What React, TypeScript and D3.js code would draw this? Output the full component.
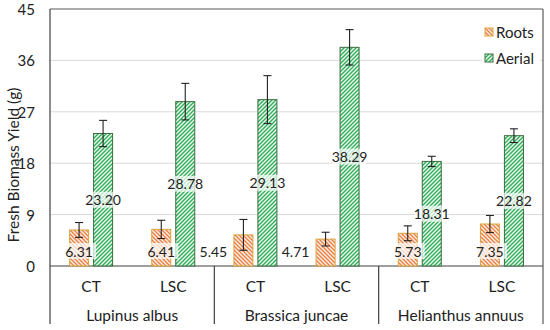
import React from "react";
import * as d3 from "d3";

const groups = ["Lupinus albus", "Brassica juncae", "Helianthus annuus"];
const treatments = ["CT", "LSC"];
const rootsValues = [6.31, 6.41, 5.45, 4.71, 5.73, 7.35];
const rootsErrors = [1.3, 1.6, 2.7, 1.2, 1.3, 1.5];
const aerialValues = [23.2, 28.78, 29.13, 38.29, 18.31, 22.82];
const aerialErrors = [2.3, 3.2, 4.2, 3.1, 0.9, 1.2];
const yTicks = [0, 9, 18, 27, 36, 45];
const seriesNames = ["Roots", "Aerial"];
const rootLabelOutside = [false, false, true, true, false, false];

const W = 550;
const H = 330;
const left = 50;
const right = 543;
const top = 9;
const bottom = 266;
const axisBottom = 324;
const FONT = "Lato, 'Open Sans', sans-serif";

export default function App() {
  const keys = groups.flatMap((g) => treatments.map((t) => `${g}|${t}`));
  const x = d3.scaleBand<string>().domain(keys).range([left, right]).padding(0);
  const gx = d3.scaleBand<string>().domain(groups).range([left, right]).padding(0);
  const y = d3.scaleLinear().domain([0, 45]).range([bottom, top]);
  const barW = 19;
  const off = 12;

  const fmt = (v: number) => v.toFixed(2);

  return (
    <svg width={W} height={H} style={{ position: "absolute", left: 0, top: 0, background: "#fff" }} fontFamily={FONT}>
      <defs>
        <pattern id="rootsPat" patternUnits="userSpaceOnUse" width="4" height="4">
          <rect width="4" height="4" fill="#fdf0e8" />
          <path d="M-1,3 l2,2 M0,0 l4,4 M3,-1 l2,2" stroke="#ec8044" strokeWidth="1.4" />
        </pattern>
        <pattern id="aerialPat" patternUnits="userSpaceOnUse" width="4" height="4">
          <rect width="4" height="4" fill="#eefaf2" />
          <path d="M-1,1 l2,-2 M0,4 l4,-4 M3,5 l2,-2" stroke="#2fae58" strokeWidth="1.4" />
        </pattern>
      </defs>

      {/* gridlines */}
      {yTicks.filter((t) => t > 0 && t < 45).map((t) => (
        <line key={t} x1={left} x2={right} y1={y(t)} y2={y(t)} stroke="#d9d9d9" strokeWidth={1} />
      ))}

      {/* frame */}
      <line x1={left} x2={right} y1={top} y2={top} stroke="#595959" strokeWidth={1.2} />
      <line x1={right} x2={right} y1={top} y2={axisBottom} stroke="#595959" strokeWidth={1.2} />
      <line x1={left} x2={left} y1={top} y2={axisBottom} stroke="#404040" strokeWidth={1.2} />
      <line x1={left} x2={right} y1={bottom} y2={bottom} stroke="#404040" strokeWidth={1.2} />
      {groups.slice(1).map((g) => (
        <line key={g} x1={gx(g)!} x2={gx(g)!} y1={bottom} y2={axisBottom} stroke="#404040" strokeWidth={1.2} />
      ))}

      {/* y ticks */}
      {yTicks.map((t) => (
        <text key={t} x={35} y={y(t)} textAnchor="end" dominantBaseline="central" fontSize={15} fill="#222">
          {t}
        </text>
      ))}
      <text
        transform={`translate(13,${165}) rotate(-90)`}
        textAnchor="middle"
        dominantBaseline="central"
        fontSize={15.5}
        fill="#222"
      >
        Fresh Biomass Yield (g)
      </text>

      {/* bars */}
      {keys.map((k, i) => {
        const cx = x(k)! + x.bandwidth() / 2;
        const rx = cx - off;
        const ax = cx + off;
        return (
          <g key={k}>
            <rect x={rx - barW / 2} y={y(rootsValues[i])} width={barW} height={y(0) - y(rootsValues[i])} fill="url(#rootsPat)" stroke="#d9a43a" strokeWidth={1} />
            <rect x={ax - barW / 2} y={y(aerialValues[i])} width={barW} height={y(0) - y(aerialValues[i])} fill="url(#aerialPat)" stroke="#3b6e3f" strokeWidth={1} />
          </g>
        );
      })}

      {/* error bars */}
      {keys.map((k, i) => {
        const cx = x(k)! + x.bandwidth() / 2;
        const items = [
          { xx: cx - off, v: rootsValues[i], e: rootsErrors[i] },
          { xx: cx + off, v: aerialValues[i], e: aerialErrors[i] },
        ];
        return (
          <g key={k} stroke="#222" strokeWidth={1.1}>
            {items.map((it, j) => (
              <g key={j}>
                <line x1={it.xx} x2={it.xx} y1={y(it.v + it.e)} y2={y(it.v - it.e)} />
                <line x1={it.xx - 4} x2={it.xx + 4} y1={y(it.v + it.e)} y2={y(it.v + it.e)} />
                <line x1={it.xx - 4} x2={it.xx + 4} y1={y(it.v - it.e)} y2={y(it.v - it.e)} />
              </g>
            ))}
          </g>
        );
      })}

      {/* data labels */}
      {keys.map((k, i) => {
        const cx = x(k)! + x.bandwidth() / 2;
        const rx = rootLabelOutside[i] ? cx - off - 30 : cx - off;
        const ry = y(0) - 15;
        const ax = cx + off;
        const ay = (y(aerialValues[i]) + y(0)) / 2;
        return (
          <g key={k}>
            {!rootLabelOutside[i] && <rect x={rx - 17} y={ry - 8} width={34} height={16} fill="#fff" opacity={0.7} />}
            <text x={rx} y={ry} textAnchor="middle" dominantBaseline="central" fontSize={14} fill="#222">
              {fmt(rootsValues[i])}
            </text>
            <rect x={ax - 17} y={ay - 8} width={34} height={16} fill="#fff" opacity={0.7} />
            <text x={ax} y={ay} textAnchor="middle" dominantBaseline="central" fontSize={14} fill="#222">
              {fmt(aerialValues[i])}
            </text>
          </g>
        );
      })}

      {/* category labels */}
      {keys.map((k) => (
        <text key={k} x={x(k)! + x.bandwidth() / 2} y={286} textAnchor="middle" dominantBaseline="central" fontSize={15.5} fill="#222">
          {k.split("|")[1]}
        </text>
      ))}
      {groups.map((g) => (
        <text key={g} x={gx(g)! + gx.bandwidth() / 2} y={315} textAnchor="middle" dominantBaseline="central" fontSize={15.5} fill="#222">
          {g}
        </text>
      ))}

      {/* legend */}
      <rect x={482} y={20} width={58} height={50} fill="#fff" />
      {seriesNames.map((s, i) => (
        <g key={s} transform={`translate(485,${32 + i * 26})`}>
          <rect x={0} y={-4} width={8} height={8} fill={i === 0 ? "url(#rootsPat)" : "url(#aerialPat)"} stroke={i === 0 ? "#d9a43a" : "#3b6e3f"} strokeWidth={1} />
          <text x={11} y={0} dominantBaseline="central" fontSize={15} fill="#222">
            {s}
          </text>
        </g>
      ))}
    </svg>
  );
}
